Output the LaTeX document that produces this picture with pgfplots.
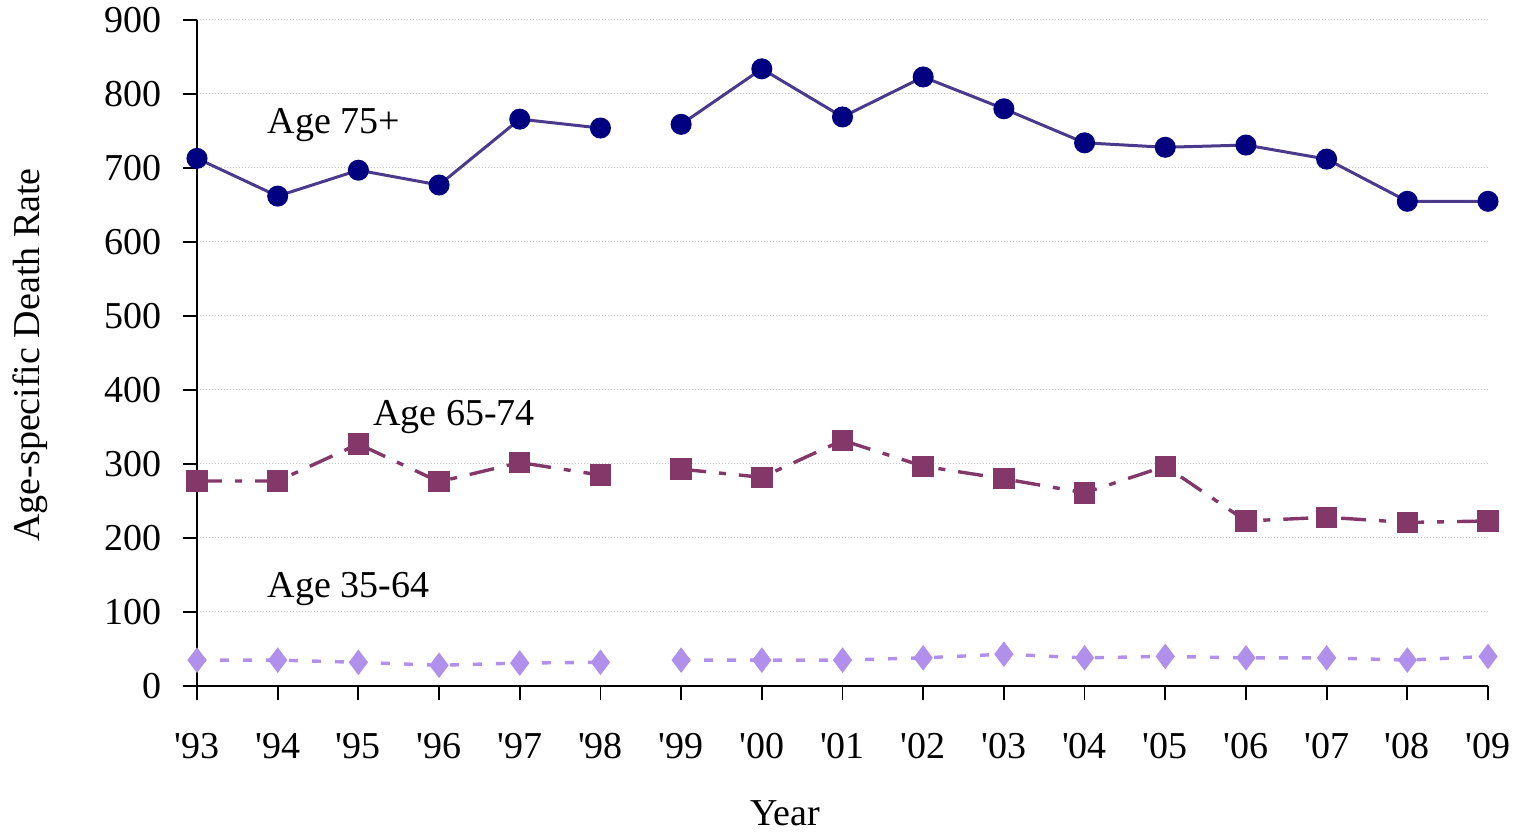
\documentclass[border=0pt]{standalone}
\usepackage{fontspec}
\setmainfont{Liberation Serif}
\usepackage{pgfplots}
\pgfplotsset{compat=1.18}
\definecolor{c75}{HTML}{4B3A8C}
\definecolor{m75}{HTML}{000080}
\definecolor{c65}{HTML}{843869}
\definecolor{c35}{HTML}{B090EA}
\newcommand\q{\textquotesingle}
\begin{document}
\fontsize{19}{22}\selectfont
\begin{tikzpicture}
\begin{axis}[
  scale only axis,
  width=645.5pt, height=333pt,
  xmin=0, xmax=16, ymin=0, ymax=900,
  axis lines=left,
  axis line style={-, line width=0.9pt},
  tick align=outside,
  major tick length=7pt,
  tick style={black, line width=0.9pt},
  xtick={0,...,16},
  xticklabels={\q93,\q94,\q95,\q96,\q97,\q98,\q99,\q00,\q01,\q02,\q03,\q04,\q05,\q06,\q07,\q08,\q09},
  ytick={0,100,...,900},
  ymajorgrids,
  grid style={gray!45, line width=0.5pt, densely dotted},
  tick label style={font=\fontsize{19}{22}\selectfont},
  xticklabel style={yshift=-10pt},
  yticklabel style={xshift=-4pt},
  /pgf/number format/assume math mode=true,
  clip=false,
  unbounded coords=jump,
]
\addplot[c75, line width=1.5pt, mark=*, mark size=4.5pt, mark options={solid, fill=m75, draw=m75}]
coordinates {(0,713) (1,662) (2,697) (3,677) (4,766) (5,754) (5.5,nan) (6,759) (7,834) (8,769) (9,823) (10,780) (11,734) (12,728) (13,731) (14,712) (15,655) (16,655)};
\addplot[c65, line width=1.7pt, dash pattern=on 12.5pt off 6.5pt on 3.5pt off 6.5pt, mark=square*, mark size=4.5pt, mark options={solid, fill=c65, draw=c65}]
coordinates {(0,277) (1,277) (2,327) (3,276) (4,302) (5,285) (5.5,nan) (6,293) (7,282) (8,332) (9,297) (10,280) (11,261) (12,297) (13,223) (14,228) (15,221) (16,223)};
\addplot[c35, line width=1.7pt, dash pattern=on 4.5pt off 7pt, mark=diamond*, mark size=5pt, mark options={solid, fill=c35, draw=c35}]
coordinates {(0,35) (1,35) (2,32) (3,28) (4,31) (5,32) (5.5,nan) (6,35) (7,35) (8,35) (9,38) (10,43) (11,38) (12,40) (13,38) (14,38) (15,35) (16,40)};
\node[anchor=west, inner sep=0pt] at (axis cs:0.87,758) {Age 75+};
\node[anchor=west, inner sep=0pt] at (axis cs:2.18,363) {Age 65-74};
\node[anchor=west, inner sep=0pt] at (axis cs:0.87,131) {Age 35-64};
\coordinate (LL) at (rel axis cs:0,0);
\coordinate (UR) at (rel axis cs:1,1);
\coordinate (YL) at (rel axis cs:0,0.497);
\coordinate (XL) at (rel axis cs:0.4555,0);
\end{axis}
\node[rotate=90, anchor=center, inner sep=0pt] at ([xshift=-83.5pt]YL) {Age-specific Death Rate};
\node[anchor=center, inner sep=0pt] at ([yshift=-63.5pt]XL) {Year};
\pgfresetboundingbox
\path[use as bounding box] ([shift={(-98.5pt,-73pt)}]LL) rectangle ([shift={(17.5pt,10pt)}]UR);
\end{tikzpicture}
\end{document}
